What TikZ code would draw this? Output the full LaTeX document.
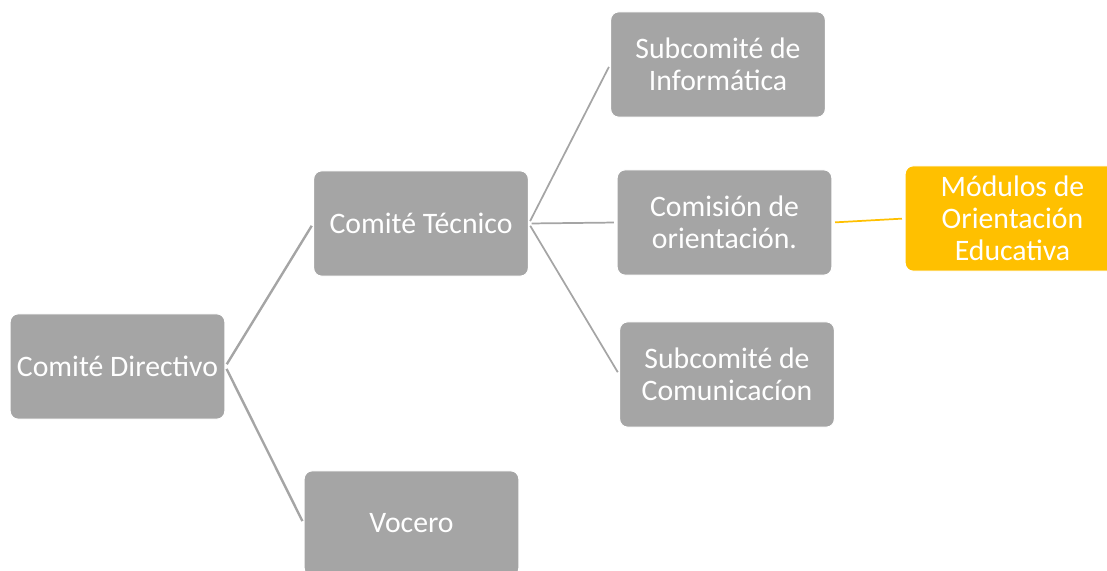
\documentclass[tikz,border=0pt]{standalone}
\usepackage{fontspec}
\setmainfont{Carlito}
\definecolor{boxgray}{HTML}{A5A5A5}
\definecolor{boxgold}{HTML}{FFC000}
\begin{document}
\begin{tikzpicture}[x=0.75pt,y=-0.75pt,
	  box/.style={draw=white,line width=0.8pt,fill=boxgray,rounded corners=6pt,text=white,
	    minimum width=161pt,minimum height=79pt,inner sep=2pt,align=center,
	    font=\fontsize{22.3pt}{24pt}\selectfont},
	  goldbox/.style={box,fill=boxgold},
	  link/.style={draw=boxgray,line width=1.8pt,shorten <=2pt,shorten >=2pt},
	  sublink/.style={link,line width=1.3pt},
	  goldlink/.style={link,draw=boxgold,line width=1.3pt}]
	  \useasboundingbox (0,0) rectangle (1107,571);
	  \node[box] (dir) at (117.5,366.5) {Comité Directivo};
	  \node[box] (tec) at (421,223.5) {Comité Técnico};
	  \node[box] (voc) at (411.5,523.5) {Vocero};
	  \node[box] (inf) at (718,64.5) {Subcomité de\\Informática};
	  \node[box] (ori) at (724.5,222.5) {Comisión de\\orientación.};
	  \node[box] (com) at (727,374.5) {Subcomité de\\Comunicacíon};
	  \node[goldbox] (mod) at (1012.5,218.5) {Módulos de\\Orientación\\Educativa};

	  \draw[link] (dir.east) -- (tec.west);
	  \draw[link] (dir.east) -- (voc.west);
	  \draw[sublink] (tec.east) -- (inf.west);
	  \draw[sublink] (tec.east) -- (ori.west);
	  \draw[sublink] (tec.east) -- (com.west);
	  \draw[goldlink] (ori.east) -- (mod.west);
	\end{tikzpicture}
\end{document}
